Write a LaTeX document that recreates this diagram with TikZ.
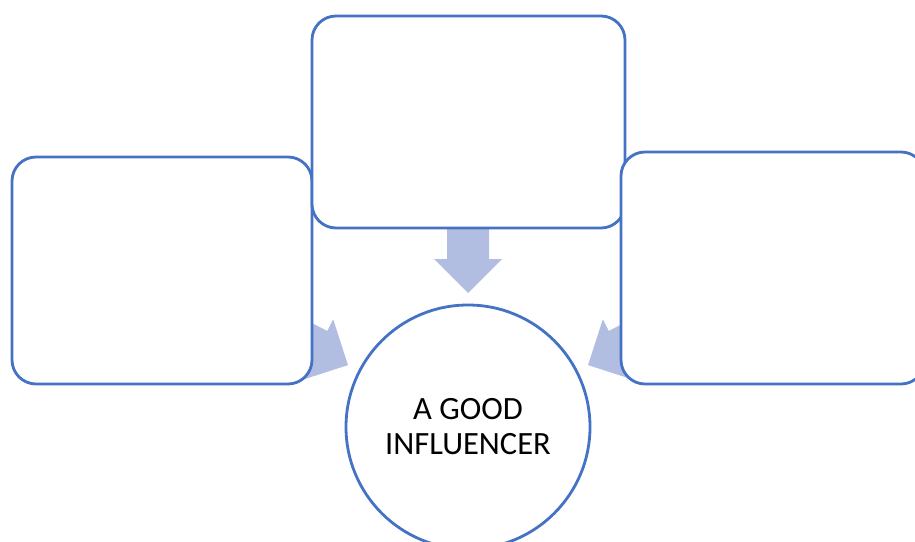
\documentclass[tikz,border=0pt]{standalone}
\usepackage{fontspec}
\setmainfont{Carlito}
\usetikzlibrary{calc}
\begin{document}
\begin{tikzpicture}[x=1pt,y=-1pt,
  edgeblue/.style={draw=boxblue,line width=2.8pt},
  roundbox/.style={edgeblue,fill=white,rounded corners=24pt,inner sep=0pt,rectangle},
  bigcircle/.style={edgeblue,fill=white,circle,inner sep=0pt,minimum size=244pt,
     font=\fontsize{32.5pt}{35pt}\selectfont,align=center,text=black},
  blockarrow/.pic={\fill[arrowfill] (0,-21) -- (31,-21) -- (31,-34) -- (65,0) -- (31,34) -- (31,21) -- (0,21) -- cycle;}
]
\definecolor{boxblue}{HTML}{4472C4}
\definecolor{arrowfill}{HTML}{B1BEE1}
\useasboundingbox (0,0) rectangle (915,541);
\clip (0,0) rectangle (915,541);
% arrows (behind)
\coordinate (tipL) at (348,365);
\coordinate (tipT) at (468,293);
\coordinate (tipR) at (588,365);
\pic[rotate=-27.1] at ($(tipL)+(-57.9,-29.5)$) {blockarrow};
\pic[rotate=-90] at ($(tipT)+(0,-65)$) {blockarrow};
\pic[rotate=-152.9] at ($(tipR)+(57.9,-29.5)$) {blockarrow};
% circle
\node[bigcircle] (c) at (468,427) {A GOOD\\INFLUENCER};
% boxes
\node[roundbox,minimum width=300pt,minimum height=227pt] (l) at (162,270.5) {};
\node[roundbox,minimum width=313pt,minimum height=212pt] (t) at (468.5,122) {};
\node[roundbox,minimum width=304pt,minimum height=232pt] (r) at (773,268) {};
\end{tikzpicture}
\end{document}
